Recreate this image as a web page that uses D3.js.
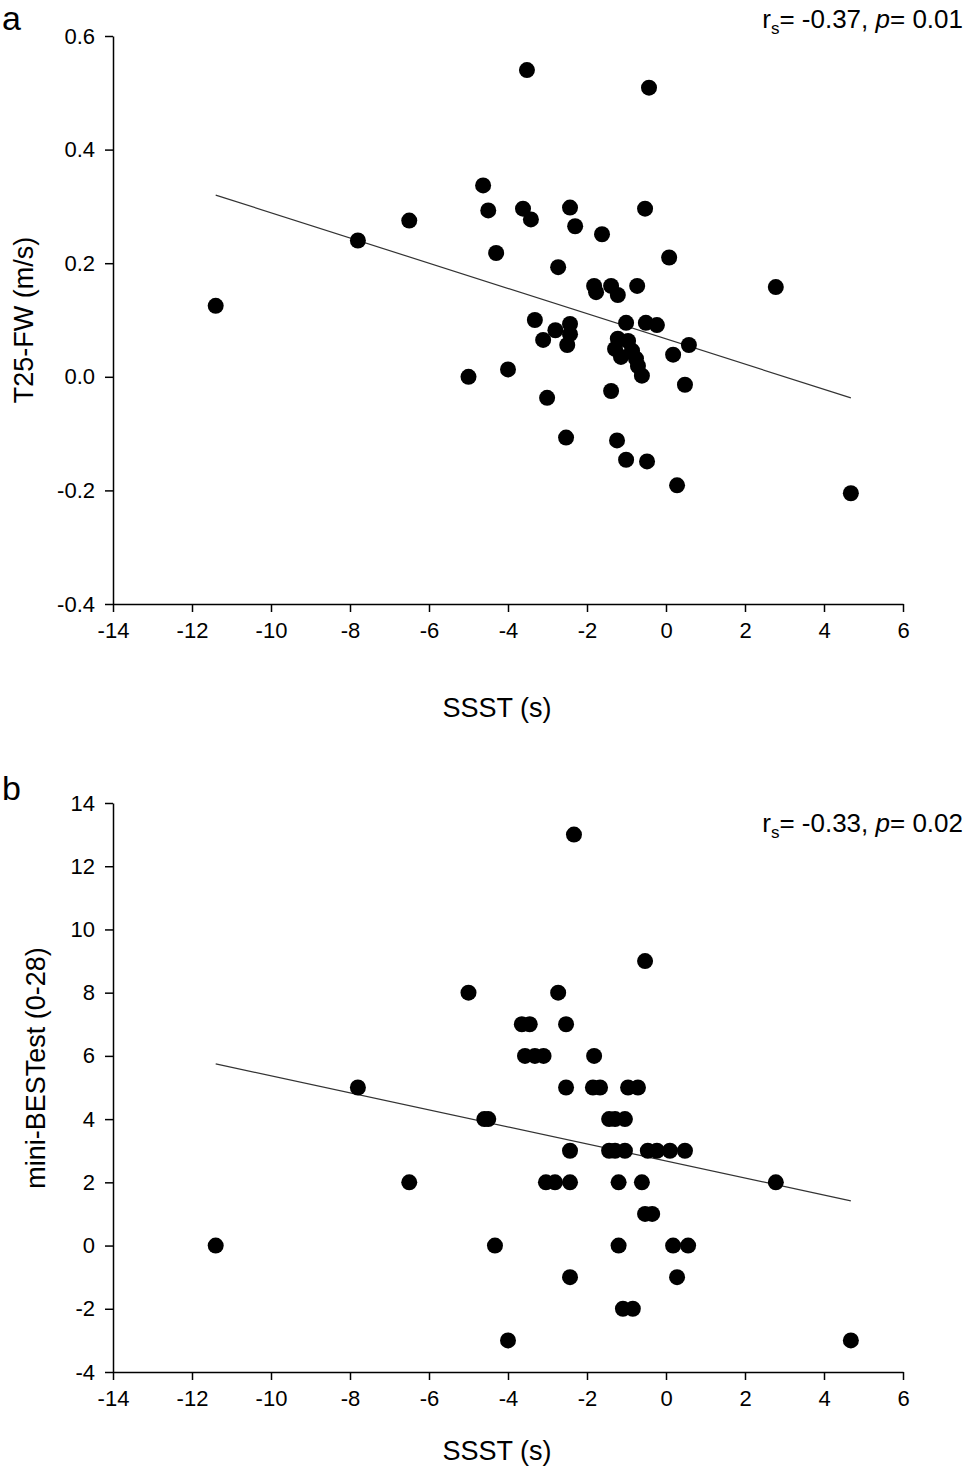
<!DOCTYPE html>
<html>
<head>
	<meta charset='utf-8'>
	<title>SSST correlations</title>
	<style>
		body { margin: 0; background: #fff; }
		svg { font-family: 'Liberation Sans', Arial, sans-serif; }
		.tick text { font-size: 22px; fill: #000; }
		.tick line, path.domain { stroke: #000; stroke-width: 1.5px; }
		.fit { fill: none; stroke: #333; stroke-width: 1.2px; }
		.dot { fill: #000; }
		.title { font-size: 27px; }
		.panel-label { font-size: 34px; }
		.stat { font-size: 26px; }
	</style>
</head>
<body>
<div id="chart"></div>
<script src='https://d3js.org/d3.v7.min.js'></script>
<script>
	'use strict';

	// panel a: SSST (s) vs T25-FW (m/s)
	const ssstA = [-11.4, -7.8, -6.5, -5.0, -4.0, -4.63, -4.5, -4.3, -3.52, -3.62, -3.42, -3.32, -3.11,
		-3.01, -2.73, -2.8, -2.43, -2.3, -2.43, -2.43, -2.5, -2.53, -1.62, -1.82, -1.77, -1.39, -1.22,
		-1.39, -1.24, -1.01, -0.48, -0.53, -0.43, -0.73, 0.08, -0.51, -0.23, -1.01, 0.58, 0.18, 0.48,
		0.28, 2.78, 4.68, -1.22, -0.96, -1.29, -0.86, -1.14, -0.76, -0.71, -0.61];
	const t25fw = [0.125, 0.24, 0.275, 0.0, 0.013, 0.337, 0.293, 0.218, 0.54, 0.296, 0.277, 0.10, 0.065,
		-0.037, 0.193, 0.082, 0.298, 0.265, 0.093, 0.075, 0.056, -0.107, 0.251, 0.16, 0.149, 0.16, 0.144,
		-0.025, -0.112, -0.146, -0.149, 0.296, 0.509, 0.16, 0.21, 0.095, 0.091, 0.095, 0.056, 0.039, -0.014,
		-0.191, 0.158, -0.205, 0.067, 0.063, 0.049, 0.046, 0.035, 0.032, 0.019, 0.002];

	// panel b: SSST (s) vs mini-BESTest
	const ssstB = [-11.4, -7.8, -6.5, -5.0, -4.6, -4.5, -4.33, -4.0, -3.65, -3.45, -3.57, -3.32, -3.1,
		-2.73, -2.53, -2.53, -3.04, -2.81, -2.43, -2.43, -2.43, -2.33, -1.82, -1.85, -1.67, -0.96, -0.71,
		-1.44, -1.29, -1.04, -1.44, -1.29, -1.04, -0.46, -0.23, 0.1, 0.48, -1.2, -0.61, -0.53, -0.35,
		-1.2, 0.18, 0.56, 0.28, -1.09, -0.84, -0.53, 2.78, 4.68];
	const miniBest = [0, 5, 2, 8, 4, 4, 0, -3, 7, 7, 6, 6, 6,
		8, 7, 5, 2, 2, 2, 3, -1, 13, 6, 5, 5, 5, 5,
		4, 4, 4, 3, 3, 3, 3, 3, 3, 3, 2, 2, 1, 1,
		0, 0, 0, -1, -2, -2, 9, 2, -3];

	const xTicks = [-14, -12, -10, -8, -6, -4, -2, 0, 2, 4, 6];
	const yTicksA = [-0.4, -0.2, 0.0, 0.2, 0.4, 0.6];
	const yTicksB = [-4, -2, 0, 2, 4, 6, 8, 10, 12, 14];

	const width = 967;
	const height = 1468;

	const svg = d3.select('#chart').append('svg')
		.attr('width', width)
		.attr('height', height);

	const hyphen = (f) => (d) => f(d).replace('\u2212', '-');

	// least squares line through the points
	function fitLine(xs, ys) {
		const mx = d3.mean(xs), my = d3.mean(ys);
		let sxy = 0, sxx = 0;
		xs.forEach((x, i) => { sxy += (x - mx) * (ys[i] - my); sxx += (x - mx) * (x - mx); });
		const slope = sxy / sxx;
		return {slope: slope, intercept: my - slope * mx};
	}

	function drawPanel(p) {
		const x = d3.scaleLinear().domain([-14, 6]).range([113, 903]);
		const y = d3.scaleLinear().domain(p.yDomain).range(p.yRange);
		const g = svg.append('g');

		g.append('g')
			.attr('transform', 'translate(0,' + p.yRange[0] + ')')
			.call(d3.axisBottom(x).tickValues(xTicks).tickSize(8).tickSizeOuter(0).tickPadding(10)
				.tickFormat(hyphen(d3.format('d'))));

		g.append('g')
			.attr('transform', 'translate(113,0)')
			.call(d3.axisLeft(y).tickValues(p.yTicks).tickSize(8).tickSizeOuter(0).tickPadding(10)
				.tickFormat(hyphen(d3.format(p.fmt))));

		// regression line
		const fit = fitLine(p.xs, p.ys);
		const ext = d3.extent(p.xs);
		g.append('path')
			.datum(ext)
			.attr('class', 'fit')
			.attr('d', d3.line()
				.x(function(d) {return x(d);})
				.y(function(d) {return y(fit.intercept + fit.slope * d);}));

		g.selectAll('circle')
			.data(p.xs.map((v, i) => [v, p.ys[i]]))
			.enter().append('circle')
			.attr('class', 'dot')
			.attr('r', 8)
			.attr('cx', function(d) {return x(d[0]);})
			.attr('cy', function(d) {return y(d[1]);});

		g.append('text')
			.attr('class', 'panel-label')
			.attr('x', 2).attr('y', p.labelY)
			.text(p.label);

		const st = g.append('text')
			.attr('class', 'stat')
			.attr('text-anchor', 'end')
			.attr('x', 963).attr('y', p.statY);
		st.append('tspan').text('r');
		st.append('tspan').attr('font-size', '17px').attr('dy', 6).text('s');
		st.append('tspan').attr('dy', -6).text('= ' + p.rs + ', ');
		st.append('tspan').attr('font-style', 'italic').text('p');
		st.append('tspan').text('= ' + p.p);

		g.append('text')
			.attr('class', 'title')
			.attr('text-anchor', 'middle')
			.attr('x', 497).attr('y', p.xTitleY)
			.text('SSST (s)');

		g.append('text')
			.attr('class', 'title')
			.attr('text-anchor', 'middle')
			.attr('transform', 'translate(' + p.yTitleX + ',' + p.yTitleY + ') rotate(-90)')
			.text(p.yTitle);
	}

	drawPanel({
		xs: ssstA, ys: t25fw, yDomain: [-0.4, 0.6], yRange: [604, 36], yTicks: yTicksA, fmt: '.1f',
		label: 'a', labelY: 30, rs: '-0.37', p: '0.01', statY: 28,
		xTitleY: 717, yTitle: 'T25-FW (m/s)', yTitleX: 33, yTitleY: 320
	});

	drawPanel({
		xs: ssstB, ys: miniBest, yDomain: [-4, 14], yRange: [1372, 803], yTicks: yTicksB, fmt: 'd',
		label: 'b', labelY: 800, rs: '-0.33', p: '0.02', statY: 832,
		xTitleY: 1460, yTitle: 'mini-BESTest (0-28)', yTitleX: 45, yTitleY: 1068
	});
</script>
</body>
</html>
